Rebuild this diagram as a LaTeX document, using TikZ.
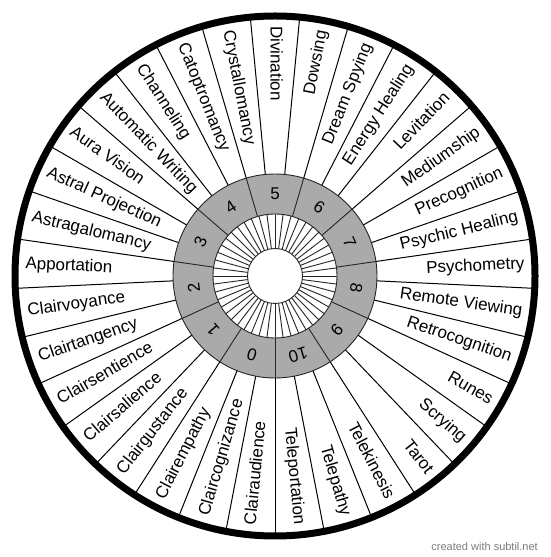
\documentclass[tikz,border=0pt]{standalone}
\usepackage{fontspec}
\setmainfont{Liberation Sans}
\definecolor{ringgray}{RGB}{170,170,170}
\definecolor{wmgray}{RGB}{125,125,125}
\begin{document}
\begin{tikzpicture}[x=1pt,y=1pt,
  lab/.style={font=\fontsize{17}{17}\selectfont, inner sep=0pt, text height=12pt, text depth=3pt},
  num/.style={font=\fontsize{17}{17}\selectfont, inner sep=0pt},
  sepline/.style={line width=1pt, black},
  thinline/.style={line width=0.9pt, black!85},
  rim/.style={line width=7pt, black},
]
\useasboundingbox (0,0) rectangle (550,557);
\fill[white] (0,0) rectangle (550,557);
\begin{scope}[shift={(275,281)}]
  \coordinate (C) at (0,0);
  % gray ring
  \fill[ringgray, even odd rule] (C) circle (102) (C) circle (62);
  % label sector separators
  \foreach \k in {0,...,32}{
    \draw[sepline] ({90+180/33+\k*360/33}:102) -- ({90+180/33+\k*360/33}:260);
  }
  % gray sector boundaries
  \foreach \k in {0,...,10}{
    \draw[thinline] ({90+180/11+\k*360/11}:62) -- ({90+180/11+\k*360/11}:102);
  }
  % inner ring spokes
  \foreach \k in {0,...,47}{
    \draw[thinline] ({90+\k*7.5}:27.5) -- ({90+\k*7.5}:62);
  }
  \draw[thinline] (C) circle (102);
  \draw[thinline] (C) circle (62);
  \draw[thinline] (C) circle (27.5);
  % numbers
  \foreach \n in {0,...,10}{
    \pgfmathsetmacro\ang{90-(\n-5)*360/11}
    \node[num, rotate=\ang-90] (N\n) at (\ang:82) {\n};
  }
  % labels
  \foreach \t [count=\i from 0] in {Divination,Dowsing,Dream Spying,Energy Healing,Levitation,Mediumship,Precognition,Psychic Healing,Psychometry,Remote Viewing,Retrocognition,Runes,Scrying,Tarot,Telekinesis,Telepathy,Teleportation,Clairaudience,Claircognizance,Clairempathy,Clairgustance,Clairsalience,Clairsentience,Clairtangency,Clairvoyance,Apportation,Astragalomancy,Astral Projection,Aura Vision,Automatic Writing,Channeling,Catoptromancy,Crystallomancy}{
    \pgfmathsetmacro\ang{90-\i*360/33}
    \pgfmathtruncatemacro\right{cos(\ang)>0.01 ? 1 : 0}
    \ifnum\right=1
      \node[lab, anchor=east, rotate=\ang] (L\i) at (\ang:250) {\t};
    \else
      \node[lab, anchor=west, rotate=\ang+180] (L\i) at (\ang:250) {\t};
    \fi
  }
  % outer rim
  \draw[rim] (C) circle (260);
\end{scope}
\node[anchor=base east, inner sep=0pt, font=\fontsize{11}{11}\selectfont, text=wmgray] (wm) at (538,6) {created with subtil.net};
\end{tikzpicture}
\end{document}
